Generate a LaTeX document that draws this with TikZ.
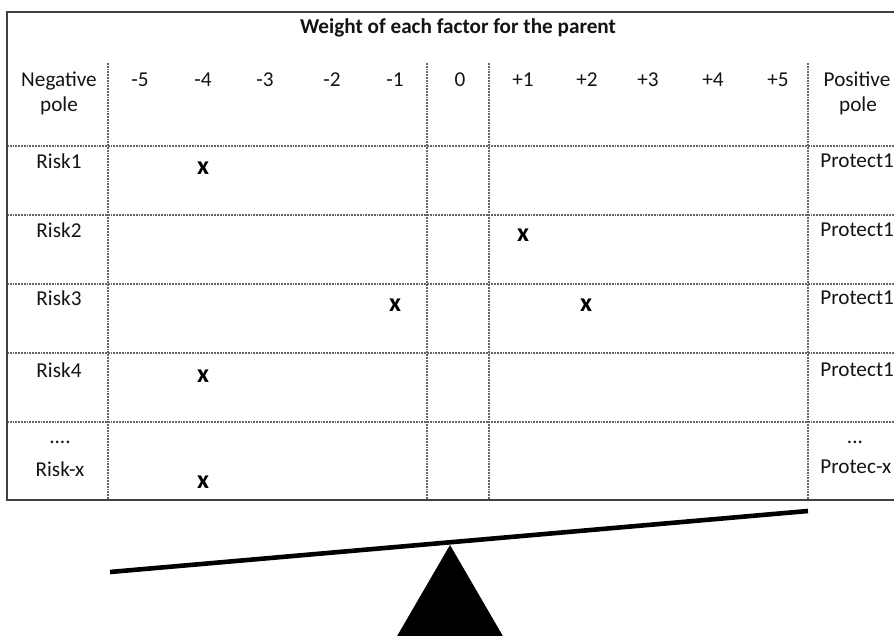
\documentclass[tikz,border=0pt]{standalone}
\usepackage{fontspec}
\setmainfont{Carlito}
\begin{document}
\begin{tikzpicture}[x=0.5pt,y=-0.5pt,
  txt/.style={inner sep=0pt, anchor=base, font=\fontsize{10.6}{12}\selectfont, text=black!92},
  ltxt/.style={txt, anchor=base west},
  xmark/.style={txt, font=\fontsize{13}{14}\selectfont\bfseries, text=black},
  grid/.style={draw=black!60, line width=0.7pt, dash pattern=on 0.9pt off 0.5pt},
  frame/.style={draw=black!75, line width=1pt},
  beam/.style={line width=2.3pt, black},
]
\useasboundingbox (0,0) rectangle (894,636);

% grid
\foreach \yy in {146,215,284,353,422}
  \draw[grid] (7,\yy) -- (900,\yy);
\foreach \xx in {108,427,489,808}
  \draw[grid] (\xx,63) -- (\xx,500);

% frame
\draw[frame] (900,12) -- (7,12) -- (7,500) -- (900,500);

% title
\node[txt, font=\fontsize{10.6}{12}\selectfont\bfseries] (title) at (458,34) {Weight of each factor for the parent};

% header
\node[txt] (neg1) at (59,87) {Negative};
\node[txt] (neg2) at (59,112) {pole};
\node[txt] (pos1) at (857,87) {Positive};
\node[txt] (pos2) at (858,112) {pole};
\node[txt] (m5) at (140,87) {-5};
\node[txt] (m4) at (203,87) {-4};
\node[txt] (m3) at (265,87) {-3};
\node[txt] (m2) at (332,87) {-2};
\node[txt] (m1) at (395,87) {-1};
\node[txt] (z0) at (460,87) {0};
\node[txt] (p1) at (523,87) {+1};
\node[txt] (p2) at (587,87) {+2};
\node[txt] (p3) at (648,87) {+3};
\node[txt] (p4) at (713,87) {+4};
\node[txt] (p5) at (778,87) {+5};

% row labels
\node[txt] (r1) at (59,169) {Risk1};
\node[txt] (r2) at (59,238) {Risk2};
\node[txt] (r3) at (59,306) {Risk3};
\node[txt] (r4) at (59,377) {Risk4};
\node[txt] (rd) at (60,443) {....};
\node[txt] (rx) at (60,476) {Risk-x};

\node[ltxt] (q1) at (820,168) {Protect1};
\node[ltxt] (q2) at (820,237) {Protect1};
\node[ltxt] (q3) at (820,305) {Protect1};
\node[ltxt] (q4) at (820,376) {Protect1};
\node[txt] (qd) at (855,443) {...};
\node[ltxt] (qx) at (820,473) {Protec-x};

% marks
\node[xmark] (x1) at (203,175) {x};
\node[xmark] (x2) at (523,242) {x};
\node[xmark] (x3a) at (395,312) {x};
\node[xmark] (x3b) at (586,312) {x};
\node[xmark] (x4) at (203,382) {x};
\node[xmark] (x5) at (203,488) {x};

% seesaw
\draw[beam] (110,572) -- (808,511);
\fill[black] (450,545) -- (389,650) -- (511,650) -- cycle;
\end{tikzpicture}
\end{document}
